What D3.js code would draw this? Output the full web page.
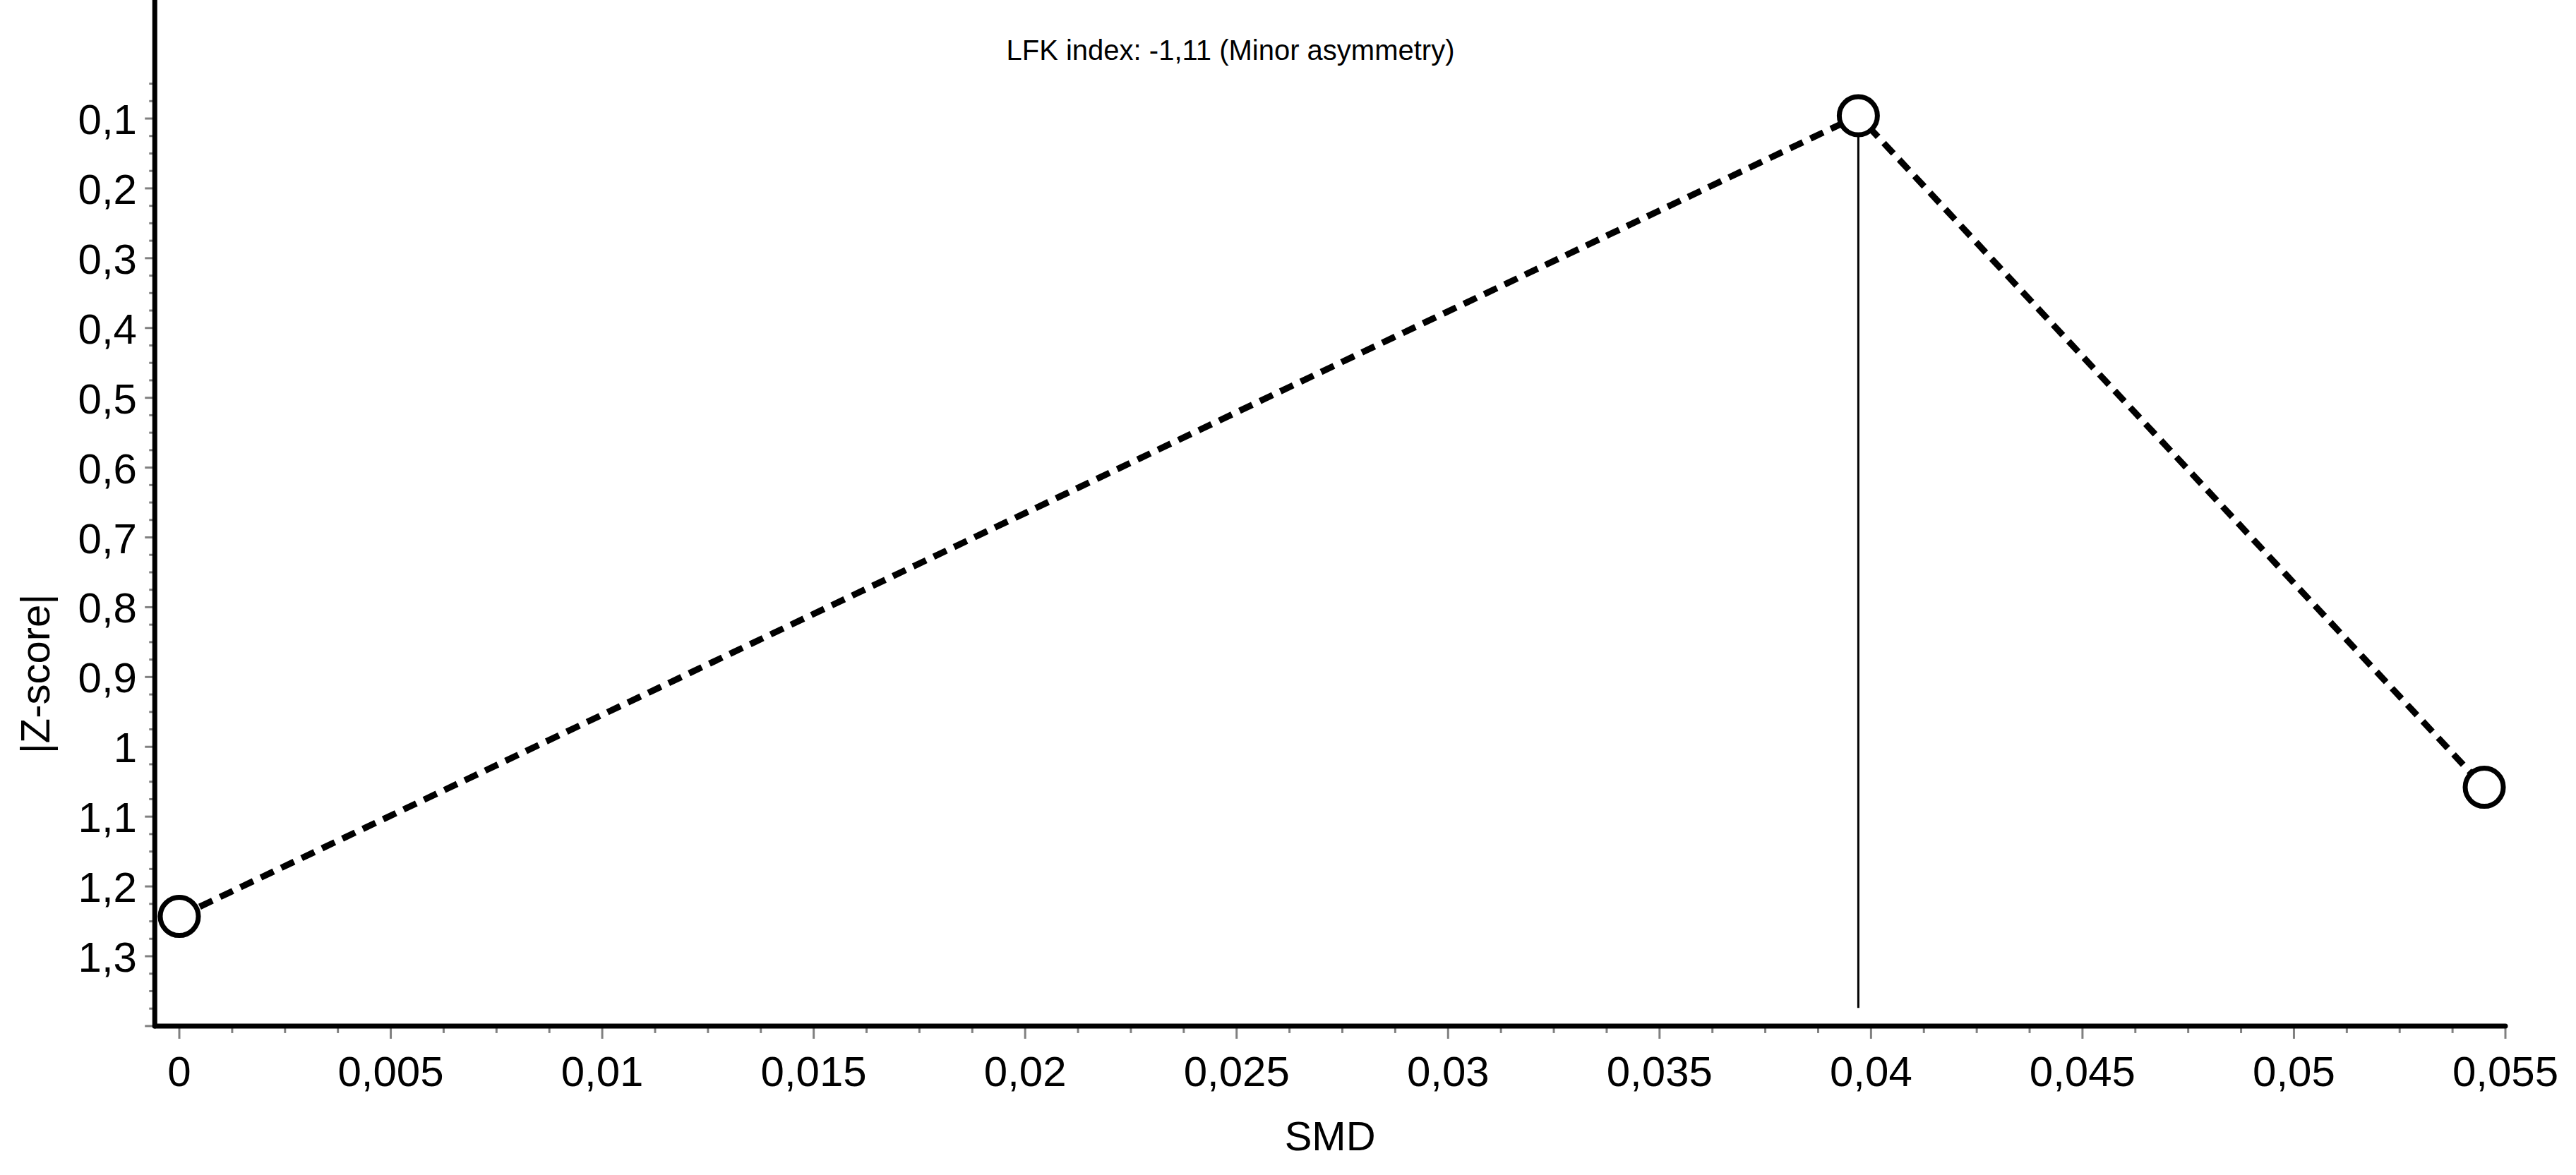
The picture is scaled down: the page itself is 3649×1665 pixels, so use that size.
<!DOCTYPE html>
<html>
<head>
<meta charset="utf-8">
<script src="https://cdn.jsdelivr.net/npm/d3@7"></script>
<style>
  body { margin: 0; background: #fff; }
  text { font-family: "Liberation Sans", Arial, sans-serif; }
</style>
</head>
<body>
<svg id="chart" width="3649" height="1665"></svg>
<script>
// chart data
var smd = [0, 0.0397, 0.0545];
var zscore = [1.243, 0.096, 1.058];
var xTicks = [0, 0.005, 0.01, 0.015, 0.02, 0.025, 0.03, 0.035, 0.04, 0.045, 0.05, 0.055];
var yTicks = [0.1, 0.2, 0.3, 0.4, 0.5, 0.6, 0.7, 0.8, 0.9, 1, 1.1, 1.2, 1.3];
var refLine = [0.0397, 0.096, 1.374];
var title = "LFK index: -1,11 (Minor asymmetry)";

var svg = d3.select("#chart");

var x = d3.scaleLinear().domain([0, 0.055]).range([254, 3549]);
var y = d3.scaleLinear().domain([0.1, 1.3]).range([168, 1355]);

var left = x(-0.00058), bottom = y(1.4), top = y(0.05);

var fmt = function(v) { return String(+v.toFixed(4)).replace(".", ","); };

// minor ticks
var xMinor = d3.range(0, 0.0551, 0.00125);
svg.append("g").selectAll("line").data(xMinor).enter().append("line")
  .attr("x1", d => x(d)).attr("x2", d => x(d))
  .attr("y1", bottom).attr("y2", d => bottom + (Math.abs(d / 0.005 - Math.round(d / 0.005)) < 1e-6 ? 18 : 10))
  .attr("stroke", "#808080").attr("stroke-width", 3);

var yMinor = d3.range(0.05, 1.401, 0.025);
svg.append("g").selectAll("line").data(yMinor).enter().append("line")
  .attr("y1", d => y(d)).attr("y2", d => y(d))
  .attr("x1", left).attr("x2", d => left - (Math.abs(d / 0.1 - Math.round(d / 0.1)) < 1e-6 ? 14 : 8))
  .attr("stroke", "#808080").attr("stroke-width", 3);

// axis lines
svg.append("line").attr("x1", left).attr("x2", left).attr("y1", top).attr("y2", bottom)
  .attr("stroke", "#000").attr("stroke-width", 7).attr("stroke-linecap", "round");
svg.append("line").attr("x1", left).attr("x2", x(0.055)).attr("y1", bottom).attr("y2", bottom)
  .attr("stroke", "#000").attr("stroke-width", 7).attr("stroke-linecap", "round");

// tick labels
svg.append("g").selectAll("text").data(xTicks).enter().append("text")
  .attr("x", d => x(d)).attr("y", bottom + 85)
  .attr("text-anchor", "middle").attr("font-size", 60)
  .text(fmt);

svg.append("g").selectAll("text").data(yTicks).enter().append("text")
  .attr("x", 194).attr("y", d => y(d) + 22)
  .attr("text-anchor", "end").attr("font-size", 60)
  .text(fmt);

// axis titles
svg.append("text").attr("x", (left + x(0.055)) / 2).attr("y", 1630)
  .attr("text-anchor", "middle").attr("font-size", 58).text("SMD");
svg.append("text").attr("transform", "translate(70,955) rotate(-90)")
  .attr("text-anchor", "middle").attr("font-size", 58).text("|Z-score|");

svg.append("text").attr("x", 1743).attr("y", 85)
  .attr("text-anchor", "middle").attr("font-size", 40).text(title);

// reference line
svg.append("line")
  .attr("x1", x(refLine[0])).attr("x2", x(refLine[0]))
  .attr("y1", y(refLine[1])).attr("y2", y(refLine[2]))
  .attr("stroke", "#000").attr("stroke-width", 3);

// dashed connecting line
var pts = smd.map((d, i) => [d, zscore[i]]);
svg.append("path").datum(pts)
  .attr("d", d3.line().x(d => x(d[0])).y(d => y(d[1])))
  .attr("fill", "none").attr("stroke", "#000").attr("stroke-width", 9)
  .attr("stroke-dasharray", "20,12");

// points
svg.append("g").selectAll("circle").data(pts).enter().append("circle")
  .attr("cx", d => x(d[0])).attr("cy", d => y(d[1])).attr("r", 27)
  .attr("fill", "#fff").attr("stroke", "#000").attr("stroke-width", 7);
</script>
</body>
</html>
